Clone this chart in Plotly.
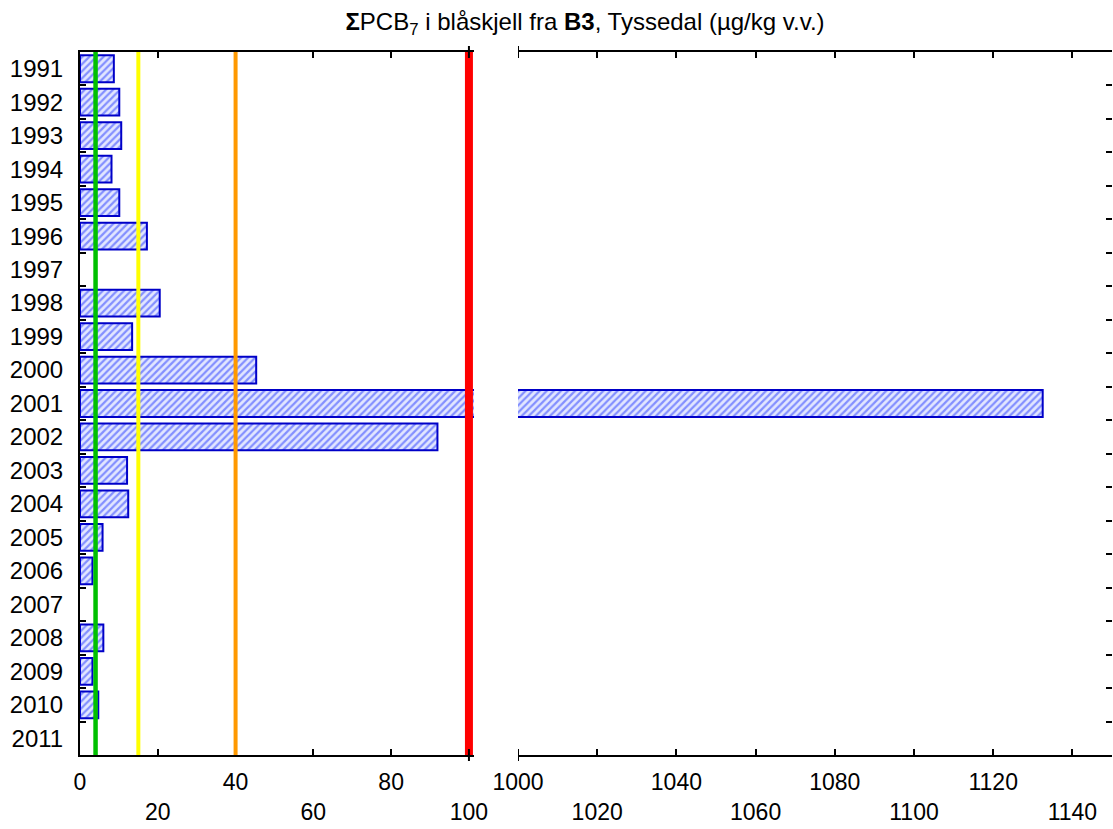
import plotly.graph_objects as go

# ---- data ----
years = [str(y) for y in range(1991, 2012)]
pcb7 = [8.7, 10.1, 10.6, 8.1, 10.1, 17.2, None, 20.5, 13.4, 45.3,
        1132.5, 91.9, 12.1, 12.4, 5.8, 3.2, None, 6.0, 3.2, 4.7, None]

class_limits = [4, 15, 40, 100]
limit_colors = ["#00c000", "#ffff00", "#ff9900", "#ff0000"]
limit_widths = [4.5, 4, 4, 8]

left_ticks = [0, 20, 40, 60, 80, 100]
right_ticks = [1000, 1020, 1040, 1060, 1080, 1100, 1120, 1140]
break_left = 100
break_right = 1000

title_text = ("<b>Σ</b>PCB<sub>7</sub> i blåskjell fra <b>B3</b>, "
              "Tyssedal (µg/kg v.v.)")

FONT = "Liberation Sans, Arial, sans-serif"


def staggered(vals):
    return [(str(v) if i % 2 == 0 else "\u00a0<br>" + str(v))
            for i, v in enumerate(vals)]


bar_style = dict(
    orientation="h",
    width=0.8,
    marker=dict(
        color="#e2e6ff",
        line=dict(color="#0000c8", width=2),
        pattern=dict(shape="/", fgcolor="#2338ff", bgcolor="#e2e6ff",
                     size=5, solidity=0.45),
    ),
    showlegend=False,
    hoverinfo="x+y",
)

fig = go.Figure()
fig.add_trace(go.Bar(x=pcb7, y=years, xaxis="x", yaxis="y", **bar_style))
fig.add_trace(go.Bar(x=pcb7, y=years, xaxis="x2", yaxis="y2", **bar_style))

for val, col, w in zip(class_limits, limit_colors, limit_widths):
    fig.add_shape(type="line", xref="x", yref="paper", x0=val, x1=val,
                  y0=0, y1=1, line=dict(color=col, width=w), layer="above")

W, H = 1113, 829
L, R, T, B = 80, 1, 52, 74
pw = W - L - R
ph = H - T - B

# small break markers crossing the top and bottom axis lines
ext = 6 / ph
for xr, xv in (("x", break_left), ("x2", break_right)):
    for y0, y1 in ((1 - ext, 1 + ext), (-ext, ext)):
        fig.add_shape(type="line", xref=xr, yref="paper", x0=xv, x1=xv,
                      y0=y0, y1=y1, line=dict(color="black", width=2),
                      layer="above")

axis_common = dict(
    showline=True, linecolor="black", linewidth=2,
    ticks="inside", ticklen=6, tickwidth=2, tickcolor="black",
    mirror="ticks", showgrid=False, zeroline=False, automargin=False,
    tickfont=dict(family=FONT, size=23, color="black"),
    ticklabelstandoff=5,
)

fig.update_layout(
    width=W, height=H,
    margin=dict(l=L, r=R, t=T, b=B, autoexpand=False),
    paper_bgcolor="white", plot_bgcolor="white",
    font=dict(family=FONT, color="black"),
    bargap=0.2,
    title=dict(text=title_text, x=585 / W, xref="container", xanchor="center",
               y=1 - 22 / H, yref="container", yanchor="middle",
               font=dict(family=FONT, size=24, color="black")),
    xaxis=dict(domain=[0, (474 - L) / pw], range=[0, 101.3],
               tickmode="array", tickvals=left_ticks,
               ticktext=staggered(left_ticks), anchor="y", **axis_common),
    xaxis2=dict(domain=[(518 - L) / pw, 1], range=[1000, 1150],
                tickmode="array", tickvals=right_ticks,
                ticktext=staggered(right_ticks), anchor="y2", **axis_common),
    yaxis=dict(type="category", categoryorder="array", categoryarray=years,
               autorange="reversed", anchor="x", showline=True,
               linecolor="black", linewidth=2, ticks="inside", ticklen=6,
               tickwidth=2, tickcolor="black", tickson="boundaries",
               showgrid=False, zeroline=False, automargin=False,
               tickfont=dict(family=FONT, size=24, color="black"),
               ticklabelstandoff=10),
    yaxis2=dict(type="category", categoryorder="array", categoryarray=years,
                autorange="reversed", anchor="x2", side="right",
                matches="y", showline=False, ticks="inside", ticklen=6,
                tickwidth=2, tickcolor="black", tickson="boundaries",
                showticklabels=False, showgrid=False, zeroline=False,
                automargin=False),
)

fig.write_html(
    "out.html",
    config={"displayModeBar": False},
    post_script="document.body.style.margin='0px';"
                "document.body.style.overflow='hidden';",
)
